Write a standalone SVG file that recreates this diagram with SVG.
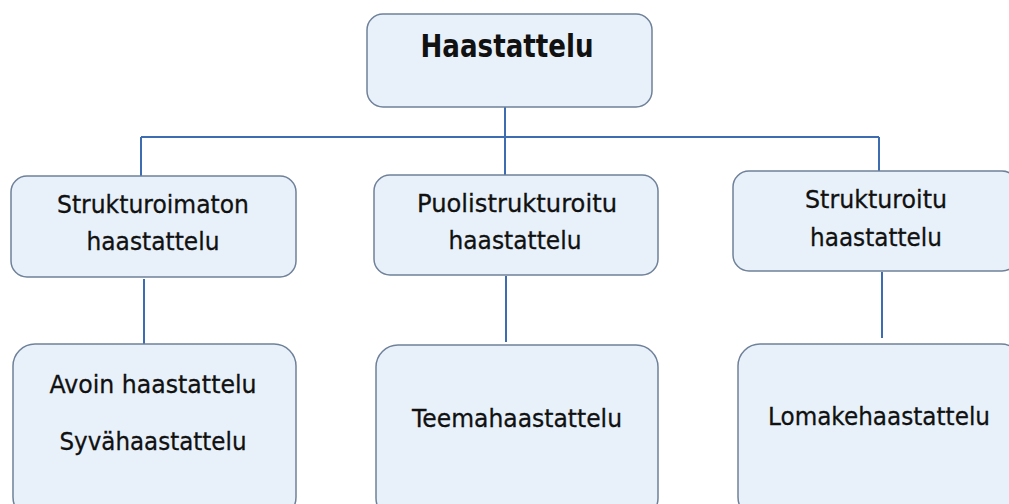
<svg xmlns="http://www.w3.org/2000/svg" width="1009" height="504" viewBox="0 0 1009 504">
<style>
.box{fill:#e8f1fa;stroke:#6f8199;stroke-width:1.5}
.t{font-family:"DejaVu Sans","Liberation Sans",sans-serif;font-size:25px;fill:#111;stroke:#111;stroke-width:0.3;text-anchor:middle}
.h{font-size:32px;font-weight:bold;stroke-width:0}
.c{stroke:#3d6cb0;stroke-width:2;fill:none}
</style>
<rect width="1009" height="504" fill="#fff"/>
<g id="connectors">
<path class="c" d="M505 107V137M141 137H879M141 137V176M505 137V175M879 137V171M144 279V344M506 276V342M882 272V338"/>
</g>
<g id="n-haastattelu">
<rect class="box" x="367" y="14" width="285" height="93" rx="16"/>
<text class="t h" x="507" y="57" textLength="173" lengthAdjust="spacingAndGlyphs">Haastattelu</text>
</g>
<g id="n-strukturoimaton">
<rect class="box" x="11" y="176" width="285" height="101" rx="16"/>
<text class="t" x="153" y="213" textLength="192" lengthAdjust="spacingAndGlyphs">Strukturoimaton</text>
<text class="t" x="153" y="250" textLength="133" lengthAdjust="spacingAndGlyphs">haastattelu</text>
</g>
<g id="n-puolistrukturoitu">
<rect class="box" x="374" y="175" width="284" height="100" rx="16"/>
<text class="t" x="517" y="212" textLength="200" lengthAdjust="spacingAndGlyphs">Puolistrukturoitu</text>
<text class="t" x="515" y="249" textLength="133" lengthAdjust="spacingAndGlyphs">haastattelu</text>
</g>
<g id="n-strukturoitu">
<rect class="box" x="733" y="171" width="285" height="100" rx="16"/>
<text class="t" x="876" y="208" textLength="142" lengthAdjust="spacingAndGlyphs">Strukturoitu</text>
<text class="t" x="876" y="246" textLength="132" lengthAdjust="spacingAndGlyphs">haastattelu</text>
</g>
<g id="n-avoin">
<rect class="box" x="13" y="344" width="283" height="175" rx="22"/>
<text class="t" x="153" y="393" textLength="207" lengthAdjust="spacingAndGlyphs">Avoin haastattelu</text>
<text class="t" x="153" y="450" textLength="187" lengthAdjust="spacingAndGlyphs">Syvähaastattelu</text>
</g>
<g id="n-teema">
<rect class="box" x="376" y="345" width="282" height="175" rx="22"/>
<text class="t" x="517" y="427" textLength="210" lengthAdjust="spacingAndGlyphs">Teemahaastattelu</text>
</g>
<g id="n-lomake">
<rect class="box" x="738" y="344" width="285" height="175" rx="22"/>
<text class="t" x="879" y="425" textLength="222" lengthAdjust="spacingAndGlyphs">Lomakehaastattelu</text>
</g>
</svg>
